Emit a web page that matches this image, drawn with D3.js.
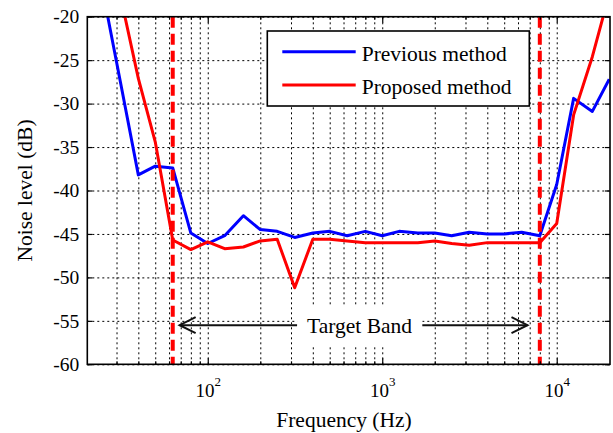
<!DOCTYPE html>
<html>
<head>
<meta charset="utf-8">
<script src="https://cdn.jsdelivr.net/npm/d3@7"></script>
<style>
  body { margin: 0; background: #fff; }
  svg { display: block; }
  svg text { font-family: "Liberation Serif", "Times New Roman", serif; }
  .grid line { stroke: #000; stroke-width: 1; stroke-dasharray: 2,3; }
  .grid .domain, .ticks .domain { display: none; }
  .ticks line { stroke: #000; stroke-width: 1.2; }
</style>
</head>
<body>
<svg id="chart"></svg>
<script>
// 1/3 octave band centre frequencies (Hz)
var freqs = [25, 31.5, 40, 50, 63, 80, 100, 125, 160, 200, 250, 315, 400, 500, 630, 800,
  1000, 1250, 1600, 2000, 2500, 3150, 4000, 5000, 6300, 8000, 10000, 12500, 16000, 20000];
var previousMethod = [-17, -27.4, -38.2, -37.2, -37.4, -44.9, -46.1, -45.2, -42.9, -44.5, -44.7, -45.4, -44.9, -44.7, -45.2, -44.7,
  -45.2, -44.7, -44.9, -44.9, -45.2, -44.8, -45.0, -45.0, -44.8, -45.2, -39.3, -29.4, -30.9, -27.2];
var proposedMethod = [-8, -17.5, -27.1, -34.4, -45.7, -46.8, -45.9, -46.7, -46.5, -45.8, -45.6, -51.2, -45.6, -45.6, -45.8, -46.0,
  -46.0, -46.0, -46.0, -45.8, -46.1, -46.3, -46.0, -46.0, -46.0, -46.0, -43.8, -31.3, -24.6, -17.4];

var yTicks = [-60, -55, -50, -45, -40, -35, -30, -25, -20];
var xMajor = [100, 1000, 10000];
var xMinor = [30, 40, 50, 60, 70, 80, 90, 200, 300, 400, 500, 600, 700, 800, 900,
  2000, 3000, 4000, 5000, 6000, 7000, 8000, 9000];
var bandEdges = [63, 8000];
var bandArrow = [69, 6800];
var bandLabel = "Target Band";
var legendLabels = ["Previous method", "Proposed method"];
var seriesColors = ["#0000ff", "#ff0000"];

var width = 613, height = 433;
var L = 87.3, R = 610, T = 16.7, B = 364.3;

var svg = d3.select("#chart").attr("width", width).attr("height", height);

var x = d3.scaleLog().domain([20.4, 20200]).range([L, R]);
var y = d3.scaleLinear().domain([-60, -20]).range([B, T]);

// grid
svg.append("g").attr("class", "grid")
  .attr("transform", "translate(0," + B + ")")
  .call(d3.axisBottom(x).tickValues(xMinor.concat(xMajor)).tickSize(-(B - T)).tickFormat(""));
svg.append("g").attr("class", "grid")
  .attr("transform", "translate(" + L + ",0)")
  .call(d3.axisLeft(y).tickValues(yTicks).tickSize(-(R - L)).tickFormat(""));

svg.append("clipPath").attr("id", "plotclip")
  .append("rect").attr("x", L).attr("y", T).attr("width", R - L).attr("height", B - T);

var line = d3.line()
  .x(function(d) { return x(d[0]); })
  .y(function(d) { return y(d[1]); });

var plot = svg.append("g").attr("clip-path", "url(#plotclip)");
[previousMethod, proposedMethod].forEach(function(vals, i) {
  plot.append("path")
    .datum(freqs.map(function(f, j) { return [f, vals[j]]; }))
    .attr("d", line)
    .attr("fill", "none")
    .attr("stroke", seriesColors[i])
    .attr("stroke-width", 3)
    .attr("stroke-linejoin", "round");
});

// band edges
plot.selectAll(".band")
  .data(bandEdges)
  .enter()
  .append("line")
  .attr("x1", d => x(d)).attr("x2", d => x(d))
  .attr("y1", T).attr("y2", B)
  .attr("stroke", "#ff0000")
  .attr("stroke-width", 4)
  .attr("stroke-dasharray", "11,6");

// target band arrow
var ay = y(-55.5);
var ax0 = x(bandArrow[0]), ax1 = x(bandArrow[1]);
var bandGroup = svg.append("g");
var bandBg = bandGroup.append("rect").attr("fill", "#fff");
var bandText = bandGroup.append("text")
  .attr("x", (ax0 + ax1) / 2 + 6)
  .attr("y", ay + 8.3)
  .attr("text-anchor", "middle")
  .style("font-size", "21.5px")
  .text(bandLabel);
var bb = bandText.node().getBBox();
bandBg
  .attr("x", bb.x - 10).attr("y", ay - 20)
  .attr("width", bb.width + 20).attr("height", 40);
var arrow = bandGroup.append("g")
  .attr("fill", "none")
  .attr("stroke", "#111")
  .attr("stroke-width", 2);
arrow.append("line")
  .attr("x1", ax0).attr("x2", bb.x - 10)
  .attr("y1", ay).attr("y2", ay);
arrow.append("line")
  .attr("x1", bb.x + bb.width + 10).attr("x2", ax1)
  .attr("y1", ay).attr("y2", ay);
arrow.append("path")
  .attr("d", "M" + (ax0 + 16) + "," + (ay - 8) + "L" + ax0 + "," + ay + "L" + (ax0 + 16) + "," + (ay + 8));
arrow.append("path")
  .attr("d", "M" + (ax1 - 16) + "," + (ay - 8) + "L" + ax1 + "," + ay + "L" + (ax1 - 16) + "," + (ay + 8));

// inward ticks
svg.append("g").attr("class", "ticks").attr("transform", "translate(" + L + ",0)")
  .call(d3.axisLeft(y).tickValues(yTicks).tickSize(-5).tickFormat(""));
svg.append("g").attr("class", "ticks").attr("transform", "translate(" + R + ",0)")
  .call(d3.axisRight(y).tickValues(yTicks).tickSize(-5).tickFormat(""));
svg.append("g").attr("class", "ticks").attr("transform", "translate(0," + B + ")")
  .call(d3.axisBottom(x).tickValues(xMajor).tickSize(-6).tickFormat(""));
svg.append("g").attr("class", "ticks").attr("transform", "translate(0," + B + ")")
  .call(d3.axisBottom(x).tickValues(xMinor).tickSize(-3).tickFormat(""));
svg.append("g").attr("class", "ticks").attr("transform", "translate(0," + T + ")")
  .call(d3.axisTop(x).tickValues(xMajor).tickSize(-6).tickFormat(""));
svg.append("g").attr("class", "ticks").attr("transform", "translate(0," + T + ")")
  .call(d3.axisTop(x).tickValues(xMinor).tickSize(-3).tickFormat(""));

// frame
svg.append("rect")
  .attr("x", L).attr("y", T).attr("width", R - L).attr("height", B - T)
  .attr("fill", "none").attr("stroke", "#000").attr("stroke-width", 1.6);

// tick labels
var yAxis = svg.append("g").attr("transform", "translate(" + L + ",0)")
  .call(d3.axisLeft(y).tickValues(yTicks).tickSize(0).tickPadding(8).tickFormat(d => String(d)));
yAxis.select(".domain").remove();
yAxis.selectAll("text").style("font-size", "19.5px").attr("fill", "#000");

var xAxis = svg.append("g").attr("transform", "translate(0," + B + ")")
  .call(d3.axisBottom(x).tickValues(xMajor).tickSize(0));
xAxis.select(".domain").remove();
xAxis.selectAll("text")
  .attr("y", 33).attr("dy", 0).attr("fill", "#000")
  .style("font-size", "19px")
  .text(null)
  .each(function(d) {
    var t = d3.select(this);
    t.append("tspan").text("10");
    t.append("tspan").attr("dy", -11).style("font-size", "13px").text(Math.round(Math.log10(d)));
  });

// axis titles
svg.append("text")
  .attr("x", 344).attr("y", 427)
  .attr("text-anchor", "middle")
  .style("font-size", "21.5px")
  .text("Frequency (Hz)");
svg.append("text")
  .attr("transform", "translate(32," + ((T + B) / 2) + ") rotate(-90)")
  .attr("text-anchor", "middle")
  .style("font-size", "21.5px")
  .text("Noise level (dB)");

// legend
var legend = svg.append("g");
legend.append("rect")
  .attr("x", 267.3).attr("y", 31).attr("width", 262).attr("height", 75)
  .attr("fill", "#fff").attr("stroke", "#000").attr("stroke-width", 1.6);
legendLabels.forEach(function(lab, i) {
  var ly = 51.7 + i * 33.3;
  legend.append("line")
    .attr("x1", 282.3).attr("x2", 355.7).attr("y1", ly).attr("y2", ly)
    .attr("stroke", seriesColors[i]).attr("stroke-width", 3);
  legend.append("text")
    .attr("x", 361.7).attr("y", ly + 9)
    .style("font-size", "21.5px")
    .text(lab);
});
</script>
</body>
</html>
